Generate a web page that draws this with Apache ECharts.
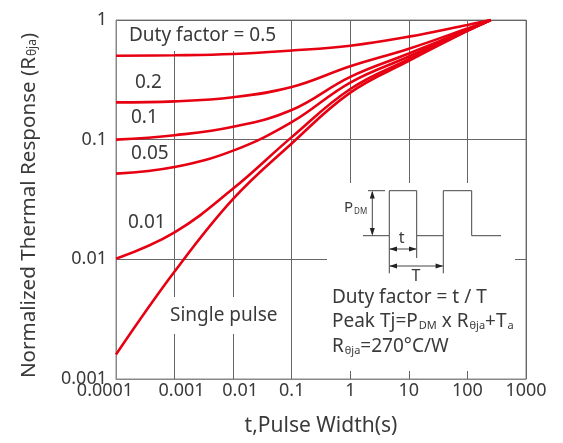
<!DOCTYPE html>
<html>
<head>
<meta charset="utf-8">
<script src="https://cdn.jsdelivr.net/npm/echarts@6/dist/echarts.min.js"></script>
<style>
html,body{margin:0;padding:0;background:#fff;}
#chart{width:563px;height:443px;}
</style>
</head>
<body>
<div id="chart"></div>
<script>
// ---- data ----
const pulseWidths = [0.0001, 0.001, 0.01, 0.1, 1, 10, 100, 250];
const duty05 = [0.503, 0.507, 0.520, 0.556, 0.610, 0.726, 0.910, 1.0];
const duty02 = [0.205, 0.209, 0.226, 0.275, 0.410, 0.575, 0.850, 1.0];
const duty01 = [0.100, 0.109, 0.128, 0.177, 0.335, 0.525, 0.830, 1.0];
const duty005 = [0.052, 0.059, 0.081, 0.140, 0.300, 0.495, 0.820, 1.0];
const duty001 = [0.0101, 0.0168, 0.039, 0.105, 0.265, 0.470, 0.815, 1.0];
const singlePulse = [0.0016, 0.0079, 0.032, 0.093, 0.247, 0.455, 0.810, 1.0];
const xTickLabels = ['0.0001', '0.001', '0.01', '0.1', '1', '10', '100', '1000'];
const yTickLabels = ['0.001', '0.01', '0.1', '1'];
const seriesNames = ['Duty factor = 0.5', '0.2', '0.1', '0.05', '0.01', 'Single pulse'];
const seriesValues = [duty05, duty02, duty01, duty005, duty001, singlePulse];

const FONT = "'Noto Sans', 'Noto Sans CJK SC', sans-serif";
const TXT = '#3a3a3a';
const RED = '#e60012';
const chart = echarts.init(document.getElementById('chart'));

const series = seriesNames.map((n, i) => ({
  name: n,
  type: 'line',
  smooth: 0.4,
  showSymbol: false,
  symbol: 'none',
  z: 5,
  lineStyle: { color: RED, width: 2.6 },
  data: pulseWidths.map((t, j) => [t, seriesValues[i][j]])
}));

const LF = '19px ' + FONT;
function lbl(x, y, text) {
  return { type: 'text', z: 10, style: { x: x, y: y, text: text, font: LF, fill: TXT, textVerticalAlign: 'middle' } };
}
function line(pts) {
  return { type: 'polyline', z: 10, shape: { points: pts }, style: { stroke: '#444', lineWidth: 1, fill: null } };
}
function tri(pts) {
  return { type: 'polygon', z: 10, shape: { points: pts }, style: { fill: '#222' } };
}
const subRich = {
  s: { fontSize: 11, fontFamily: FONT, fill: TXT, verticalAlign: 'bottom', lineHeight: 10, padding: [0, 0, 0, 1] }
};

const option = {
  animation: false,
  backgroundColor: '#fff',
  grid: { left: 116, right: 37, top: 20, bottom: 64, show: true, borderColor: '#888', borderWidth: 1 },
  xAxis: {
    type: 'log', logBase: 10, min: 0.0001, max: 1000, interval: 1,
    axisLine: { lineStyle: { color: '#888', width: 1 } },
    axisTick: { show: false },
    splitLine: { show: true, lineStyle: { color: '#666', width: 1 } },
    axisLabel: {
      margin: 3, color: TXT, fontSize: 18, fontFamily: FONT,
      formatter: function (v) {
        const i = Math.round(Math.log10(v)) + 4;
        const s = xTickLabels[i];
        if (i === 0) return '{l|' + s + '}';
        if (i === 1 || i === 2) return '{r|' + s + '}';
        return s;
      },
      rich: {
        l: { fontSize: 18, fontFamily: FONT, color: TXT, padding: [0, 22, 0, 0] },
        r: { fontSize: 18, fontFamily: FONT, color: TXT, padding: [0, 0, 0, 14] }
      }
    },
    name: 't,Pulse Width(s)', nameLocation: 'middle', nameGap: 37,
    nameTextStyle: { fontSize: 21, fontFamily: FONT, color: TXT }
  },
  yAxis: {
    type: 'log', logBase: 10, min: 0.001, max: 1, interval: 1,
    axisLine: { lineStyle: { color: '#888', width: 1 } },
    axisTick: { show: false },
    splitLine: { show: true, lineStyle: { color: '#666', width: 1 } },
    axisLabel: {
      margin: 9, color: TXT, fontSize: 18, fontFamily: FONT,
      formatter: function (v) { return yTickLabels[Math.round(Math.log10(v)) + 3]; }
    },
    name: 'Normalized Thermal Response (R{s|θja})', nameLocation: 'middle', nameGap: 77,
    nameTextStyle: {
      fontSize: 20.6, fontFamily: FONT, color: TXT, padding: [0, 12, 0, 0],
      rich: { s: { fontSize: 12, fontFamily: FONT, color: TXT, verticalAlign: 'bottom', lineHeight: 12, padding: [8, 0, 0, 1] } }
    }
  },
  graphic: [
    // white boxes behind labels (gridline gaps)
    { type: 'rect', z: 1, shape: { x: 120, y: 21, width: 165, height: 30 }, style: { fill: '#fff' } },
    { type: 'rect', z: 1, shape: { x: 166, y: 297, width: 120, height: 37 }, style: { fill: '#fff' } },
    { type: 'rect', z: 1, shape: { x: 327, y: 183, width: 188, height: 188 }, style: { fill: '#fff' } },
    lbl(129, 36, 'Duty factor = 0.5'),
    lbl(135, 83, '0.2'),
    lbl(131, 118, '0.1'),
    lbl(131, 154, '0.05'),
    lbl(128, 223, '0.01'),
    lbl(170, 316, 'Single pulse'),
    lbl(332, 298, 'Duty factor = t / T'),
    {
      type: 'text', z: 10,
      style: { x: 332, y: 322, text: 'Peak Tj=P{s|DM} x R{s|θja}+T{s|a}', font: LF, fill: TXT, textVerticalAlign: 'middle', rich: subRich }
    },
    {
      type: 'text', z: 10,
      style: { x: 332, y: 347, text: 'R{s|θja}=270°C/W', font: LF, fill: TXT, textVerticalAlign: 'middle', rich: subRich }
    },
    // pulse diagram
    line([[363, 235.7], [389.3, 235.7], [389.3, 190.7], [416.7, 190.7], [416.7, 235.7], [443.3, 235.7], [443.3, 190.7], [471.7, 190.7], [471.7, 235.7], [501, 235.7]]),
    line([[368, 190.7], [385, 190.7]]),
    line([[372.3, 192], [372.3, 234]]),
    tri([[372.3, 190.7], [369.8, 198.5], [374.8, 198.5]]),
    tri([[372.3, 235.7], [369.8, 227.9], [374.8, 227.9]]),
    line([[389.3, 235.7], [389.3, 273.3]]),
    line([[416.7, 235.7], [416.7, 258]]),
    line([[443.3, 235.7], [443.3, 273.3]]),
    line([[390, 249], [416, 249]]),
    tri([[389.3, 249], [397, 246.6], [397, 251.4]]),
    tri([[416.7, 249], [409, 246.6], [409, 251.4]]),
    line([[390, 266], [442.6, 266]]),
    tri([[389.3, 266], [397, 263.6], [397, 268.4]]),
    tri([[443.3, 266], [435.6, 263.6], [435.6, 268.4]]),
    {
      type: 'text', z: 10,
      style: { x: 344, y: 208, text: 'P{s|DM}', font: '15px ' + FONT, fill: TXT, textVerticalAlign: 'middle',
        rich: { s: { fontSize: 8, fontFamily: FONT, fill: TXT, verticalAlign: 'bottom', lineHeight: 8, padding: [0, 0, 0, 1] } } }
    },
    { type: 'text', z: 10, style: { x: 401.7, y: 238, text: 't', font: '16px ' + FONT, fill: TXT, textAlign: 'center', textVerticalAlign: 'middle' } },
    { type: 'text', z: 10, style: { x: 416, y: 276, text: 'T', font: '16px ' + FONT, fill: TXT, textAlign: 'center', textVerticalAlign: 'middle' } }
  ],
  series: series
};
chart.setOption(option);
</script>
</body>
</html>
